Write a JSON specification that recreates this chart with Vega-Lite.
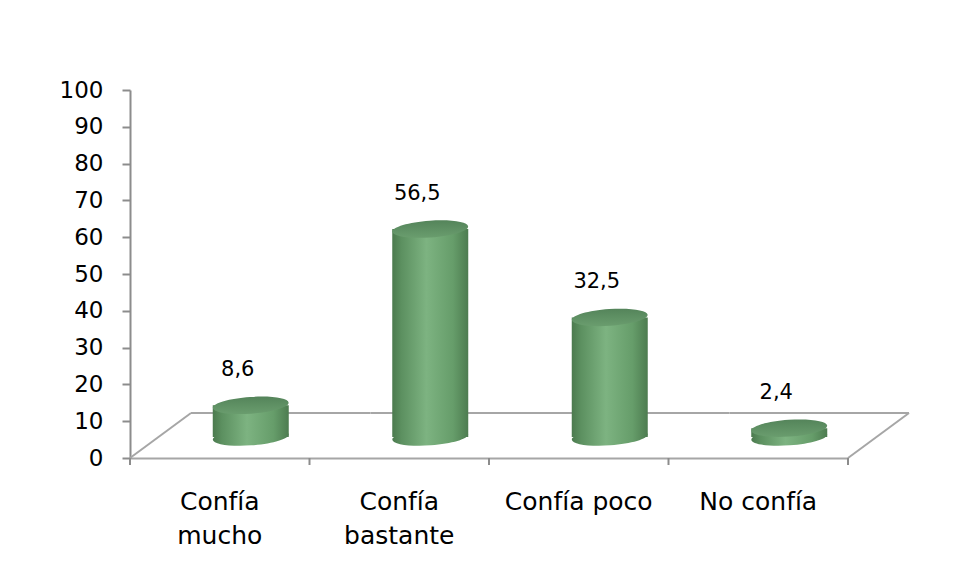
{
  "$schema": "https://vega.github.io/schema/vega-lite/v6.json",
  "width": 718,
  "height": 368,
  "autosize": {"type": "none"},
  "padding": {"left": 130, "top": 90, "right": 108, "bottom": 121},
  "background": "white",
  "config": {
    "view": {"stroke": null},
    "font": "DejaVu Sans",
    "locale": {"number": {"decimal": ",", "thousands": ".", "grouping": [3], "currency": ["", " €"]}},
    "axisX": {"domainColor": "#a6a6a6", "domainWidth": 2, "ticks": false, "labels": false, "grid": false},
    "axisY": {"domainColor": "#8c8c8c", "domainWidth": 2, "tickSize": 8, "tickWidth": 2, "tickColor": "#8c8c8c", "labelFont": "DejaVu Sans", "labelFontSize": 23, "labelColor": "#000000", "labelPadding": 19, "tickCount": 10, "grid": false}
  },
  "data": {
    "values": [
      {"categoria": "Confía mucho", "etiqueta": "Confía\nmucho", "porcentaje": 8.6},
      {"categoria": "Confía bastante", "etiqueta": "Confía\nbastante", "porcentaje": 56.5},
      {"categoria": "Confía poco", "etiqueta": "Confía poco", "porcentaje": 32.5},
      {"categoria": "No confía", "etiqueta": "No confía", "porcentaje": 2.4}
    ]
  },
  "encoding": {
    "x": {
      "field": "categoria",
      "type": "nominal",
      "sort": null,
      "scale": {"type": "band", "paddingInner": 0, "paddingOuter": 0},
      "axis": {"title": null}
    },
    "y": {
      "field": "porcentaje",
      "type": "quantitative",
      "scale": {"domain": [0, 100], "nice": false},
      "axis": {"title": null}
    }
  },
  "layer": [
    {
      "mark": {"type": "bar", "fillOpacity": 0, "stroke": "#a6a6a6", "strokeWidth": 2, "xOffset": 61, "x2Offset": 61, "yOffset": -45, "y2Offset": -45},
      "encoding": {
        "y": {"datum": 0, "type": "quantitative", "axis": {"title": null}},
        "y2": {"datum": 0}
      }
    },
    {
      "transform": [{"filter": "datum.categoria == 'Confía mucho'"}],
      "mark": {"type": "rule", "stroke": "#a6a6a6", "strokeWidth": 2, "x2Offset": 61, "y2Offset": -45},
      "encoding": {
        "x": {"field": "categoria", "type": "nominal", "sort": null, "bandPosition": 0, "axis": {"title": null}},
        "x2": {"field": "categoria", "bandPosition": 0},
        "y": {"datum": 0, "type": "quantitative", "axis": {"title": null}},
        "y2": {"datum": 0}
      }
    },
    {
      "transform": [{"filter": "datum.categoria == 'No confía'"}],
      "mark": {"type": "rule", "stroke": "#a6a6a6", "strokeWidth": 2, "x2Offset": 61, "y2Offset": -45},
      "encoding": {
        "x": {"field": "categoria", "type": "nominal", "sort": null, "bandPosition": 1, "axis": {"title": null}},
        "x2": {"field": "categoria", "bandPosition": 1},
        "y": {"datum": 0, "type": "quantitative", "axis": {"title": null}},
        "y2": {"datum": 0}
      }
    },
    {
      "mark": {"type": "rule", "stroke": "#8c8c8c", "strokeWidth": 2, "y2Offset": 7},
      "encoding": {
        "x": {"field": "categoria", "type": "nominal", "sort": null, "bandPosition": 0, "axis": {"title": null}},
        "y": {"datum": 0, "type": "quantitative", "axis": {"title": null}},
        "y2": {"datum": 0}
      }
    },
    {
      "transform": [{"filter": "datum.categoria == 'No confía'"}],
      "mark": {"type": "rule", "stroke": "#8c8c8c", "strokeWidth": 2, "y2Offset": 7},
      "encoding": {
        "x": {"field": "categoria", "type": "nominal", "sort": null, "bandPosition": 1, "axis": {"title": null}},
        "y": {"datum": 0, "type": "quantitative", "axis": {"title": null}},
        "y2": {"datum": 0}
      }
    },
    {
      "mark": {
        "type": "point",
        "shape": "M -0.9976 0.0698 A 1 0.22 -4 0 1 0.9976 -0.0698 A 1 0.22 -4 0 1 -0.9976 0.0698 Z",
        "size": 5776,
        "filled": true,
        "opacity": 1,
        "strokeWidth": 0,
        "xOffset": 31,
        "yOffset": -21,
        "fill": {"gradient": "linear", "x1": 0, "y1": 0, "x2": 1, "y2": 0, "stops": [
          {"offset": 0, "color": "#4b7a4e"},
          {"offset": 0.12, "color": "#5c9060"},
          {"offset": 0.45, "color": "#7db381"},
          {"offset": 0.8, "color": "#669d6a"},
          {"offset": 1, "color": "#4d7c50"}
        ]}
      },
      "encoding": {
        "y": {"datum": 0, "type": "quantitative", "axis": {"title": null}}
      }
    },
    {
      "mark": {
        "type": "bar",
        "width": 76,
        "xOffset": 31,
        "yOffset": -21,
        "y2Offset": -21,
        "color": {"gradient": "linear", "x1": 0, "y1": 0, "x2": 1, "y2": 0, "stops": [
          {"offset": 0, "color": "#4b7a4e"},
          {"offset": 0.12, "color": "#5c9060"},
          {"offset": 0.45, "color": "#7db381"},
          {"offset": 0.8, "color": "#669d6a"},
          {"offset": 1, "color": "#4d7c50"}
        ]}
      },
      "encoding": {
        "y2": {"datum": 0}
      }
    },
    {
      "mark": {
        "type": "point",
        "shape": "M -0.9976 0.0698 A 1 0.22 -4 0 1 0.9976 -0.0698 A 1 0.22 -4 0 1 -0.9976 0.0698 Z",
        "size": 5776,
        "filled": true,
        "opacity": 1,
        "strokeWidth": 0,
        "xOffset": 31,
        "yOffset": -21,
        "fill": {"gradient": "linear", "x1": 0, "y1": 0, "x2": 0, "y2": 1, "stops": [
          {"offset": 0, "color": "#54845a"},
          {"offset": 1, "color": "#6a9d6e"}
        ]}
      }
    },
    {
      "mark": {"type": "text", "dx": 18, "dy": -50, "baseline": "alphabetic", "align": "center", "fontSize": 21, "color": "#000000"},
      "encoding": {
        "text": {"field": "porcentaje", "type": "quantitative", "format": ".1f"}
      }
    },
    {
      "mark": {"type": "text", "dy": 32, "baseline": "top", "align": "center", "fontSize": 25, "lineHeight": 34, "lineBreak": "\n", "color": "#000000"},
      "encoding": {
        "y": {"datum": 0, "type": "quantitative", "axis": {"title": null}},
        "text": {"field": "etiqueta", "type": "nominal"}
      }
    }
  ]
}
